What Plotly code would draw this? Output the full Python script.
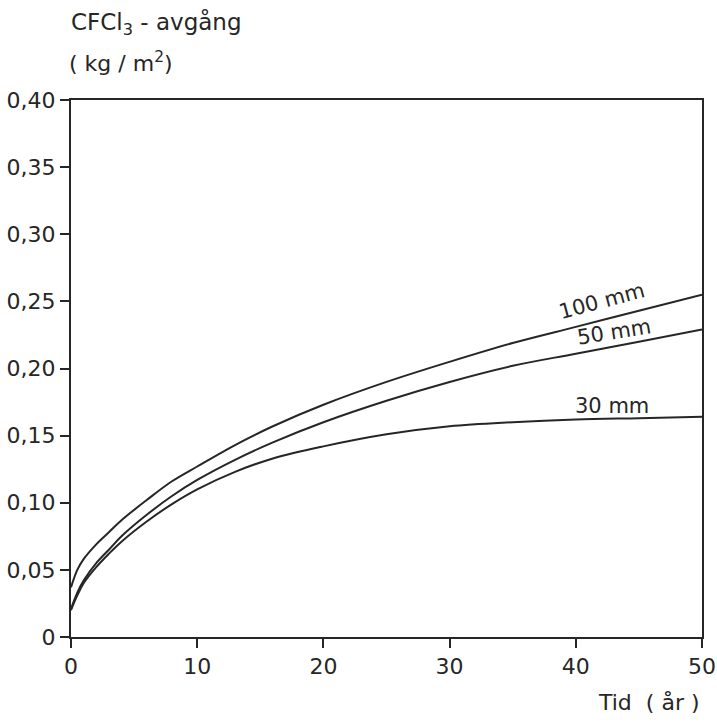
import plotly.graph_objects as go

years = [0, 0.5, 1, 2, 3, 4, 6, 8, 10, 13, 16, 20, 25, 30, 35, 40, 45, 50]
s100 = [0.037, 0.050, 0.058, 0.069, 0.078, 0.087, 0.102, 0.116, 0.127, 0.143, 0.157, 0.173, 0.190, 0.205, 0.219, 0.231, 0.243, 0.255]
s50 = [0.021, 0.033, 0.042, 0.055, 0.065, 0.075, 0.091, 0.105, 0.117, 0.132, 0.145, 0.160, 0.176, 0.190, 0.202, 0.211, 0.220, 0.229]
s30 = [0.020, 0.031, 0.040, 0.052, 0.062, 0.071, 0.086, 0.099, 0.110, 0.123, 0.133, 0.142, 0.151, 0.157, 0.160, 0.162, 0.163, 0.164]

series = [("100 mm", s100), ("50 mm", s50), ("30 mm", s30)]
label_pos = {"100 mm": (42.1, 0.250, -15), "50 mm": (43.0, 0.227, -9), "30 mm": (42.9, 0.172, 0)}

xticks = [0, 10, 20, 30, 40, 50]
yticks = [0, 0.05, 0.10, 0.15, 0.20, 0.25, 0.30, 0.35, 0.40]
yticktext = ["0", "0,05", "0,10", "0,15", "0,20", "0,25", "0,30", "0,35", "0,40"]

ink = "#262626"
font = "DejaVu Sans"

fig = go.Figure()
for name, vals in series:
    fig.add_trace(go.Scatter(x=years, y=vals, mode="lines", name=name,
                             line=dict(color=ink, width=2, shape="spline", smoothing=1.0),
                             showlegend=False))
    lx, ly, ang = label_pos[name]
    fig.add_annotation(x=lx, y=ly, text=name, showarrow=False, textangle=ang,
                       font=dict(family=font, size=21, color=ink))

fig.add_annotation(xref="paper", yref="paper", x=-0.003, y=1.175, xanchor="left", yanchor="top",
                   text="CFCl<sub>3</sub> - avgång", showarrow=False,
                   font=dict(family=font, size=23, color=ink))
fig.add_annotation(xref="paper", yref="paper", x=-0.007, y=1.1, xanchor="left", yanchor="top",
                   text="( kg / m<sup>2</sup>)", showarrow=False,
                   font=dict(family=font, size=22, color=ink))
fig.add_annotation(xref="paper", yref="paper", x=1.0, y=-0.095, xanchor="right", yanchor="top",
                   text="Tid  ( år )", showarrow=False,
                   font=dict(family=font, size=22, color=ink))

fig.update_layout(
    width=717, height=722,
    margin=dict(l=71, r=15, t=100, b=85),
    paper_bgcolor="white", plot_bgcolor="white",
    xaxis=dict(range=[0, 50], tickvals=xticks, ticktext=[str(v) for v in xticks],
               automargin=False,
               showgrid=False, zeroline=False, showline=True, linecolor=ink, linewidth=2,
               mirror=True, ticks="outside", ticklen=9, tickwidth=2, tickcolor=ink,
               tickfont=dict(family=font, size=22, color=ink)),
    yaxis=dict(range=[0, 0.40], tickvals=yticks, ticktext=yticktext,
               automargin=False,
               showgrid=False, zeroline=False, showline=True, linecolor=ink, linewidth=2,
               mirror=True, ticks="outside", ticklen=9, tickwidth=2, tickcolor=ink,
               tickfont=dict(family=font, size=22, color=ink)),
)

fig.write_html("out.html")
